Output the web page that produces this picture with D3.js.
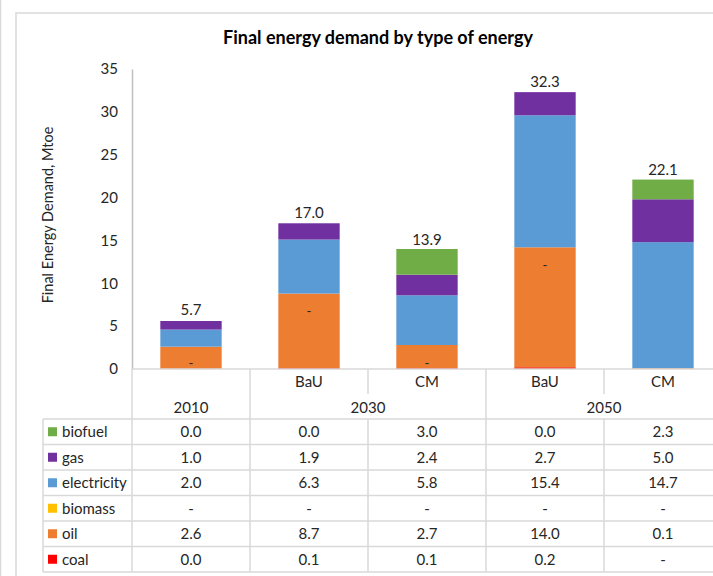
<!DOCTYPE html>
<html lang="en">
<head>
<meta charset="utf-8">
<title>Final energy demand by type of energy</title>
<script src="https://d3js.org/d3.v7.min.js"></script>
<style>
body {
  margin: 0;
  background: #fff;
}
svg text {
  font-family: Lato, "Open Sans", sans-serif;
  fill: #262626;
}
.grid line {
  stroke: #d9d9d9;
  stroke-width: 1.5;
}
</style>
</head>
<body>
<svg width="713" height="576"></svg>
<script>
// categories along the x axis (year + scenario)
var categories = ["2010", "2030 BaU", "2030 CM", "2050 BaU", "2050 CM"];
var scenarios = ["", "BaU", "CM", "BaU", "CM"];
var years = ["2010", "2030", "2050"];
var yearOf = ["2010", "2030", "2030", "2050", "2050"];

// series, bottom of stack first; null shows as "-"
var coal = [0.0, 0.1, 0.1, 0.2, null];
var oil = [2.6, 8.7, 2.7, 14.0, 0.1];
var biomass = [null, null, null, null, null];
var electricity = [2.0, 6.3, 5.8, 15.4, 14.7];
var gas = [1.0, 1.9, 2.4, 2.7, 5.0];
var biofuel = [0.0, 0.0, 3.0, 0.0, 2.3];

var totals = [5.7, 17.0, 13.9, 32.3, 22.1];
// stray "-" labels inside the bars (value on y axis)
var dashLabels = [0.55, 6.7, 0.55, 12.05, null];

var yTicks = [0, 5, 10, 15, 20, 25, 30, 35];

var series = [
  {name: "coal", values: coal, color: "#ff0000"},
  {name: "oil", values: oil, color: "#ed7d31"},
  {name: "biomass", values: biomass, color: "#ffc000"},
  {name: "electricity", values: electricity, color: "#5b9bd5"},
  {name: "gas", values: gas, color: "#7030a0"},
  {name: "biofuel", values: biofuel, color: "#70ad47"}
];

var svg = d3.select("svg");

// chart frame
svg.append("line").attr("x1", 0.5).attr("x2", 0.5).attr("y1", 0).attr("y2", 576)
   .attr("stroke", "#d9d9d9").attr("stroke-width", 1.5);
svg.append("rect").attr("x", 16).attr("y", 13).attr("width", 760).attr("height", 620)
   .attr("fill", "none").attr("stroke", "#d9d9d9").attr("stroke-width", 1.5);

svg.append("text")
   .attr("x", 378).attr("y", 44)
   .attr("text-anchor", "middle")
   .attr("font-size", "18px").attr("font-weight", "bold")
   .style("fill", "#000")
   .text("Final energy demand by type of energy");

var x = d3.scaleBand().domain(categories).range([132, 722]);
var y = d3.scaleLinear().domain([0, 35]).range([369, 69]);
var barW = x.bandwidth() * 0.52;

// y axis
var yAxis = svg.append("g")
   .attr("transform", "translate(132,0)")
   .call(d3.axisLeft(y).tickValues(yTicks).tickSize(0).tickPadding(14));
yAxis.select(".domain").attr("stroke", "#bfbfbf").attr("stroke-width", 1.5);
yAxis.selectAll("text").attr("font-size", "15px").style("fill", "#262626")
   .style("font-family", "Lato, sans-serif");

svg.append("text")
   .attr("transform", "translate(53,215) rotate(-90)")
   .attr("text-anchor", "middle")
   .attr("font-size", "14.5px")
   .text("Final Energy Demand, Mtoe");

// stacked bars
var stackData = categories.map(function(c, i) {
  var o = {cat: c};
  series.forEach(function(s) { o[s.name] = s.values[i] || 0; });
  return o;
});
var stacked = d3.stack().keys(series.map(function(s) { return s.name; }))(stackData);

svg.append("g").selectAll("g")
   .data(stacked)
   .enter().append("g")
   .attr("fill", function(d, i) { return series[i].color; })
   .selectAll("rect")
   .data(function(d) { return d; })
   .enter().append("rect")
   .attr("x", function(d) { return x(d.data.cat) + (x.bandwidth() - barW) / 2; })
   .attr("y", function(d) { return y(d[1]); })
   .attr("width", barW)
   .attr("height", function(d) { return y(d[0]) - y(d[1]); });

// total labels
svg.append("g").selectAll("text")
   .data(totals)
   .enter().append("text")
   .attr("x", function(d, i) { return x(categories[i]) + x.bandwidth() / 2; })
   .attr("y", function(d) { return y(d) - 5; })
   .attr("text-anchor", "middle")
   .attr("font-size", "15px")
   .text(function(d) { return d.toFixed(1); });

var dashes = dashLabels
   .map(function(v, i) { return {v: v, cat: categories[i]}; })
   .filter(function(d) { return d.v !== null; });

svg.append("g").selectAll("text")
   .data(dashes)
   .enter().append("text")
   .attr("x", function(d) { return x(d.cat) + x.bandwidth() / 2; })
   .attr("y", function(d) { return y(d.v) + 4; })
   .attr("text-anchor", "middle")
   .attr("font-size", "13px")
   .text("-");

// data table
var tableRows = series.slice().reverse();
var rowY = d3.scaleBand().domain(tableRows.map(function(s) { return s.name; })).range([419, 572]);
var headTop = 369, headMid = 394;
var grid = svg.append("g").attr("class", "grid");

// horizontal rules
grid.append("line").attr("x1", 132).attr("x2", 722).attr("y1", headTop).attr("y2", headTop);
grid.selectAll(".hrow")
   .data(tableRows.map(function(s) { return rowY(s.name); }).concat([572]))
   .enter().append("line")
   .attr("x1", 43).attr("x2", 722)
   .attr("y1", function(d) { return d; }).attr("y2", function(d) { return d; });

// vertical rules
grid.append("line").attr("x1", 43).attr("x2", 43).attr("y1", 419).attr("y2", 572);
grid.append("line").attr("x1", 132).attr("x2", 132).attr("y1", headTop).attr("y2", 572);
categories.forEach(function(c, i) {
  if (i === 0) return;
  var xx = x(c);
  var newYear = yearOf[i] !== yearOf[i - 1];
  grid.append("line").attr("x1", xx).attr("x2", xx).attr("y1", headTop).attr("y2", newYear ? 572 : headMid);
  if (!newYear) grid.append("line").attr("x1", xx).attr("x2", xx).attr("y1", 419).attr("y2", 572);
});

// header labels
svg.append("g").selectAll("text")
   .data(scenarios)
   .enter().append("text")
   .attr("x", function(d, i) { return x(categories[i]) + x.bandwidth() / 2; })
   .attr("y", headTop + 18)
   .attr("text-anchor", "middle")
   .attr("font-size", "15px")
   .text(function(d) { return d; });

svg.append("g").selectAll("text")
   .data(years)
   .enter().append("text")
   .attr("x", function(yr) {
     var idx = categories.map(function(c, i) { return i; }).filter(function(i) { return yearOf[i] === yr; });
     return (x(categories[idx[0]]) + x(categories[idx[idx.length - 1]]) + x.bandwidth()) / 2;
   })
   .attr("y", headMid + 19)
   .attr("text-anchor", "middle")
   .attr("font-size", "15px")
   .text(function(d) { return d; });

// rows
var rows = svg.append("g").selectAll("g")
   .data(tableRows)
   .enter().append("g")
   .attr("transform", function(s) { return "translate(0," + rowY(s.name) + ")"; });

rows.append("rect")
   .attr("x", 48).attr("y", rowY.bandwidth() / 2 - 4.5)
   .attr("width", 9).attr("height", 9)
   .attr("fill", function(s) { return s.color; });

rows.append("text")
   .attr("x", 62).attr("y", rowY.bandwidth() / 2 + 5.5)
   .attr("font-size", "15px")
   .text(function(s) { return s.name; });

rows.selectAll(".val")
   .data(function(s) { return s.values; })
   .enter().append("text")
   .attr("x", function(d, i) { return x(categories[i]) + x.bandwidth() / 2; })
   .attr("y", rowY.bandwidth() / 2 + 5.5)
   .attr("text-anchor", "middle")
   .attr("font-size", "15px")
   .text(function(d) { return d === null ? "-" : d.toFixed(1); });
</script>
</body>
</html>
